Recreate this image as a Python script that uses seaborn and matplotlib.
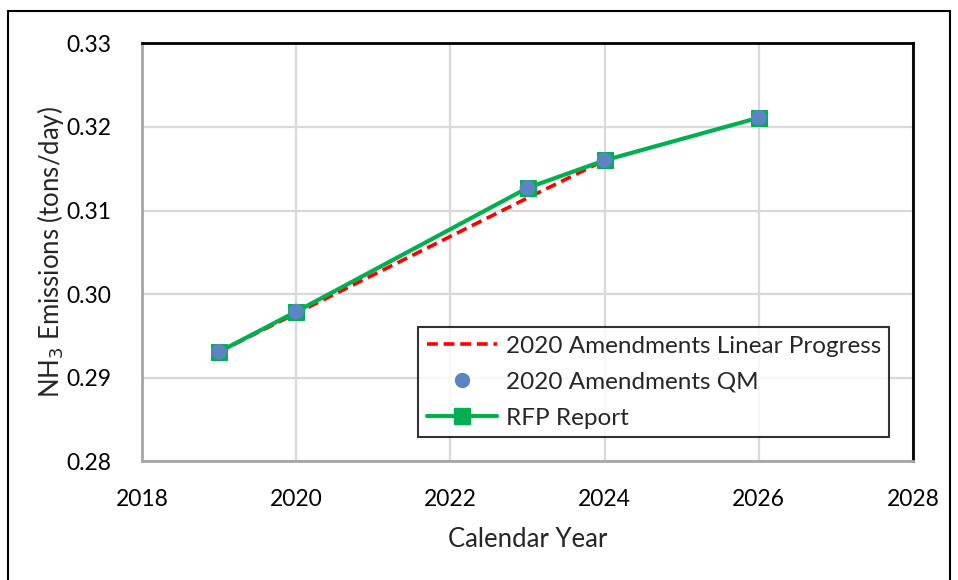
import numpy as np
import pandas as pd
import matplotlib
matplotlib.use("Agg")
import matplotlib.pyplot as plt
import seaborn as sns
from matplotlib.patches import Rectangle
from matplotlib.lines import Line2D

# Data
years_linear = [2019, 2020, 2023, 2024]
linear_progress = [0.2931, 0.2977, 0.3115, 0.3160]

years_qm = [2019, 2020, 2023, 2024, 2026]
qm_values = [0.2931, 0.2979, 0.3127, 0.3160, 0.3211]

years_rfp = [2019, 2020, 2023, 2024, 2026]
rfp_values = [0.2931, 0.2979, 0.3127, 0.3160, 0.3211]

x_ticks = [2018, 2020, 2022, 2024, 2026, 2028]
y_ticks = [0.28, 0.29, 0.30, 0.31, 0.32, 0.33]

sns.set_theme(style="white")
plt.rcParams['font.family'] = ['Lato', 'DejaVu Sans']

fig = plt.figure(figsize=(9.58, 5.8), dpi=100)
ax = fig.add_axes([142/958, 1-461.3/580, (913-142)/958, (461.3-43.3)/580])

df_lin = pd.DataFrame({"year": years_linear, "val": linear_progress})
df_qm = pd.DataFrame({"year": years_qm, "val": qm_values})
df_rfp = pd.DataFrame({"year": years_rfp, "val": rfp_values})

green = "#00B050"
blue = "#5B85C2"
red = "#FF0000"

sns.lineplot(data=df_lin, x="year", y="val", ax=ax, color=red, lw=2.6,
             linestyle=(0, (3, 1.6)), zorder=3)
sns.lineplot(data=df_rfp, x="year", y="val", ax=ax, color=green, lw=3,
             marker="s", markersize=11, markeredgecolor=green, zorder=4)
sns.scatterplot(data=df_qm, x="year", y="val", ax=ax, color=blue, s=130,
                edgecolor="none", zorder=5)

ax.set_xlim(2018, 2028)
ax.set_ylim(0.28, 0.33)
ax.set_xticks(x_ticks)
ax.set_yticks(y_ticks)
ax.set_xticklabels([str(t) for t in x_ticks])
ax.set_yticklabels([f"{t:.2f}" for t in y_ticks])
ax.tick_params(axis='both', length=0, labelsize=16.5, colors="black")
ax.tick_params(axis='x', pad=20)
ax.tick_params(axis='y', pad=22)
ax.grid(True, color="#D9D9D9", lw=1.6)
ax.set_axisbelow(True)

for s in ["left", "bottom"]:
    ax.spines[s].set_color("#A6A6A6")
    ax.spines[s].set_linewidth(2)
for s in ["top", "right"]:
    ax.spines[s].set_color("black")
    ax.spines[s].set_linewidth(2)

ax.set_xlabel("Calendar Year", fontsize=18.5, labelpad=12)
ax.set_ylabel("NH$_3$ Emissions (tons/day)", fontsize=18.5, labelpad=0)

handles = [
    Line2D([], [], color=red, lw=2.6, linestyle=(0, (3, 1.6))),
    Line2D([], [], color=blue, marker="o", markersize=11, lw=0, markeredgecolor="none"),
    Line2D([], [], color=green, lw=3, marker="s", markersize=11),
]
labels = ["2020 Amendments Linear Progress", "2020 Amendments QM", "RFP Report"]
leg = ax.legend(handles, labels, loc="upper left", bbox_to_anchor=((418-142)/771, 1-(327-43.3)/418),
                fontsize=17.5, frameon=True, fancybox=False, edgecolor="black",
                handlelength=2.9, handletextpad=0.35, borderpad=0.35, labelspacing=0.62,
                borderaxespad=0)
leg.get_frame().set_linewidth(1.5)

# outer frame
fig.patches.append(Rectangle((8/958, -0.05), (950-8)/958, 1.05 - 11/580,
                             transform=fig.transFigure, fill=False, edgecolor="black",
                             lw=1.5, zorder=10))

fig.savefig("out.png", dpi=100)
